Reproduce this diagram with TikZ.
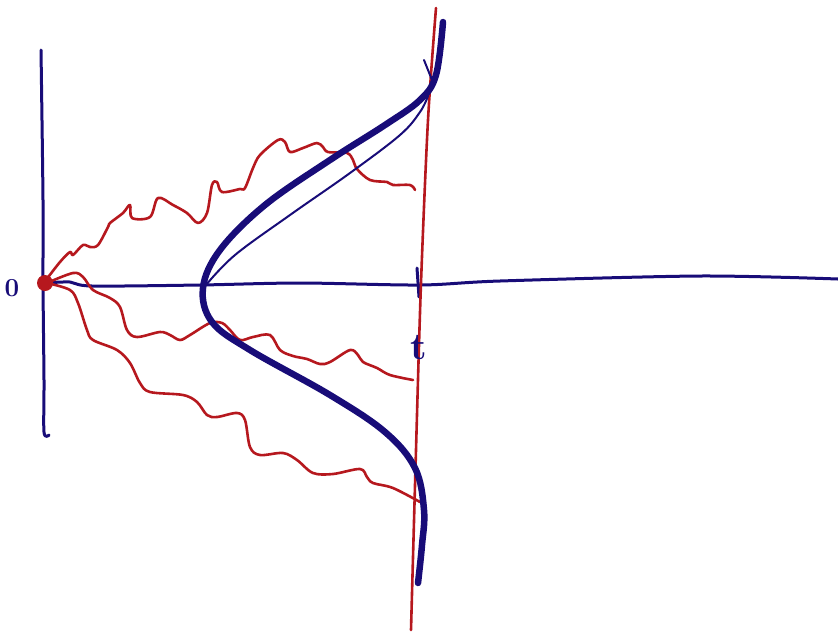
\documentclass[tikz,border=0pt]{standalone}
\usepackage{tikz}
\definecolor{inknavy}{RGB}{24,12,120}
\definecolor{inkred}{RGB}{182,24,30}
\tikzstyle{axis} = [inknavy, line width=3pt, line cap=round, line join=round]
\tikzstyle{density} = [inknavy, line width=6.5pt, line cap=round, line join=round]
\tikzstyle{thinink} = [inknavy, line width=2pt, line cap=round]
\tikzstyle{walk} = [inkred, line width=2.6pt, line cap=round, line join=round]
\tikzstyle{handlabel} = [inknavy, inner sep=0pt]

\begin{document}
\begin{tikzpicture}[x=1pt, y=-1pt]
      \useasboundingbox (0,0) rectangle (838,633);
      \coordinate (origin) at (45,283);
      \coordinate (ttick) at (419,284);
      % axes
      \draw [axis] plot[smooth, tension=0.5] coordinates {(41,50) (43,200) (43,283) (44,380) (44,432) (49,435)};
      \draw [axis] plot[smooth, tension=0.5] coordinates {(45,283) (70,282) (92,286) (200,285) (300,283) (420,285) (500,281) (700,276) (838,279)};
      \draw [axis] (417,268) -- (419,297);
      % time slice
      \draw [walk] plot[smooth, tension=0.5] coordinates {(436,8) (428,120) (421,283) (416,450) (411,630)};
      % paths
      \draw [walk] plot[smooth, tension=0.55] coordinates {(46,280) (60,262) (70,252) (73,255) (83,245) (90,247) (98,245) (108,227) (110,223) (123,213) (130,205) (132,218) (150,217) (158,198) (173,205) (187,213) (198,223) (207,213) (212,185) (217,182) (222,192) (240,189) (245,188) (253,168) (260,155) (278,140) (285,142) (290,152) (303,148) (317,143) (323,147) (328,152) (347,153) (353,160) (357,169) (370,180) (387,182) (393,185) (410,185) (415,190)};
      \draw [walk] plot[smooth, tension=0.55] coordinates {(47,283) (73,273) (83,277) (93,290) (110,298) (120,307) (127,330) (137,337) (160,332) (170,335) (180,340) (190,335) (210,323) (222,323) (230,330) (240,340) (253,337) (270,335) (280,350) (293,356) (307,359) (320,364) (330,362) (350,350) (358,355) (363,362) (377,368) (390,375) (413,380)};
      \draw [walk] plot[smooth, tension=0.55] coordinates {(47,283) (70,290) (78,303) (87,330) (93,340) (117,350) (130,363) (140,383) (150,392) (183,395) (197,402) (207,415) (217,417) (237,413) (245,420) (250,447) (260,455) (283,453) (297,460) (313,473) (333,474) (360,469) (367,477) (373,483) (393,488) (420,502)};
      % density at t
      \draw [density] plot[smooth, tension=0.6] coordinates {(443,22) (436,75) (420,100) (385,125) (330,160) (265,205) (220,250) (203,288) (212,322) (250,350) (330,395) (385,432) (415,468) (424,510) (422,545) (418,583)};
      \draw [thinink] plot[smooth, tension=0.6] coordinates {(206,285) (235,255) (290,215) (350,173) (400,135) (420,112) (428,96)};
      \draw [thinink] (424,60) -- (432,80);
      \fill [inkred] (origin) circle (8);
      \node (zero) [handlabel, font=\fontsize{26}{26}\selectfont\bfseries] at (12,288) {0};
      \node (tlabel) [handlabel, font=\fontsize{38}{38}\selectfont\bfseries] at (419,348) {t};
\end{tikzpicture}
\end{document}
